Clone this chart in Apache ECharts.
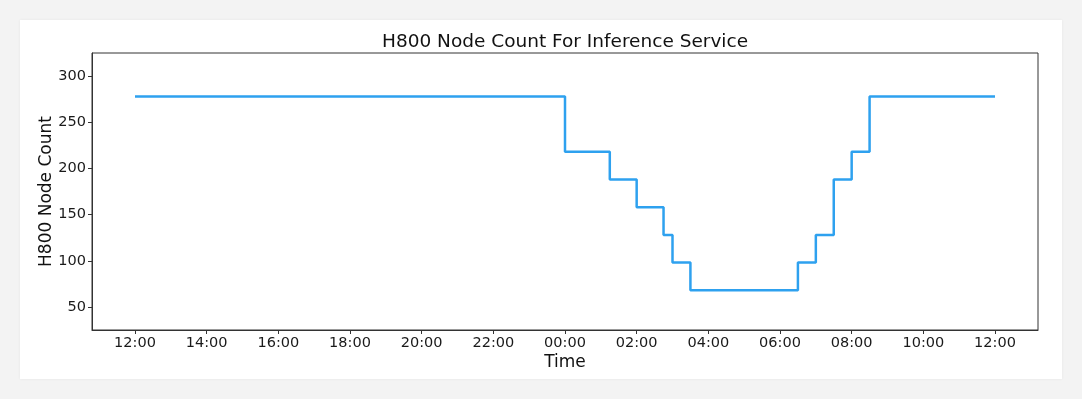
<!DOCTYPE html>
<html>
<head>
<meta charset="utf-8">
<script src="https://cdn.jsdelivr.net/npm/echarts@6/dist/echarts.min.js"></script>
<style>
  html, body { margin: 0; padding: 0; background: #f3f3f3; width: 1082px; height: 399px; overflow: hidden; }
  #card { position: absolute; left: 20px; top: 20px; width: 1042px; height: 359px; background: #ffffff; box-shadow: 0 0 3px rgba(0,0,0,0.06); }
  #chart { position: absolute; left: 0; top: 0; width: 1082px; height: 399px; }
</style>
</head>
<body>
<div id="card"></div>
<div id="chart"></div>
<script>
// Hours elapsed since the 12:00 start (step changes, value holds until next point)
const hoursFromStart = [0, 12, 13.25, 14, 14.75, 15, 15.5, 18.5, 19, 19.5, 20, 20.5, 24];
const nodeCounts     = [278, 218, 188, 158, 128, 98, 68, 98, 128, 188, 218, 278, 278];
const xTickHours  = [0, 2, 4, 6, 8, 10, 12, 14, 16, 18, 20, 22, 24];
const xTickLabels = ['12:00','14:00','16:00','18:00','20:00','22:00','00:00','02:00','04:00','06:00','08:00','10:00','12:00'];
const yTickValues = [50, 100, 150, 200, 250, 300];

const FONT = 'DejaVu Sans';
const chart = echarts.init(document.getElementById('chart'), null, { renderer: 'canvas' });
chart.setOption({
  backgroundColor: 'transparent',
  animation: false,
  graphic: [{
    type: 'text', x: 565, y: 42,
    style: { text: 'H800 Node Count For Inference Service', fontFamily: FONT, fontSize: 18.5,
             fill: '#111', textAlign: 'center', textVerticalAlign: 'middle' }
  }],
  grid: { left: 92, right: 44, top: 53, bottom: 69, show: true, borderColor: '#333', borderWidth: 1, backgroundColor: 'transparent', containLabel: false },
  xAxis: {
    type: 'value', min: -1.2, max: 25.2,
    name: 'Time', nameLocation: 'middle', nameGap: 24, nameMoveOverlap: false,
    nameTextStyle: { fontFamily: FONT, fontSize: 17, color: '#111', verticalAlign: 'top' },
    axisLine: { show: true, onZero: false, lineStyle: { color: '#333', width: 1 } },
    axisTick: { show: true, length: 4, customValues: xTickHours, lineStyle: { color: '#333' } },
    axisLabel: { customValues: xTickHours, fontFamily: FONT, fontSize: 14.5, color: '#1a1a1a', margin: 6,
      formatter: v => { const i = xTickHours.indexOf(v); return i >= 0 ? xTickLabels[i] : ''; } },
    splitLine: { show: false }
  },
  yAxis: {
    type: 'value', min: 25, max: 325,
    name: 'H800 Node Count', nameLocation: 'middle', nameGap: 37, nameRotate: 90, nameMoveOverlap: false,
    nameTextStyle: { fontFamily: FONT, fontSize: 17, color: '#111' },
    axisLine: { show: true, onZero: false, lineStyle: { color: '#333', width: 1 } },
    axisTick: { show: true, length: 4, customValues: yTickValues, lineStyle: { color: '#333' } },
    axisLabel: { customValues: yTickValues, fontFamily: FONT, fontSize: 14.5, color: '#1a1a1a', margin: 6 },
    splitLine: { show: false }
  },
  series: [{
    type: 'line', step: 'end', symbol: 'none',
    data: hoursFromStart.map((h, i) => [h, nodeCounts[i]]),
    lineStyle: { color: '#2ea1ef', width: 2.5 }
  }]
});
</script>
</body>
</html>
